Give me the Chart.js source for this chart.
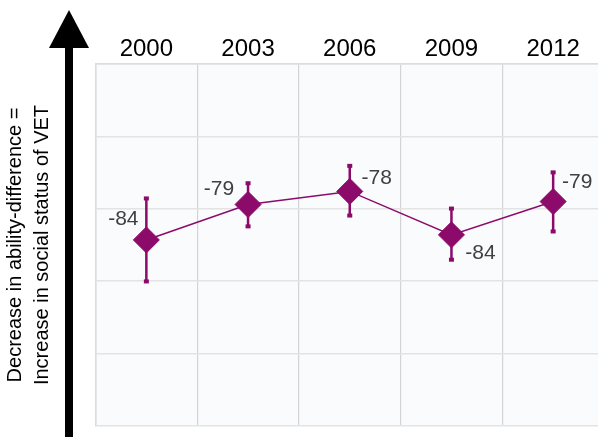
<!DOCTYPE html>
<html>
<head>
<meta charset="utf-8">
<script src="https://cdn.jsdelivr.net/npm/chart.js@4"></script>
<style>
  html, body { margin: 0; padding: 0; background: #ffffff; overflow: hidden; width: 598px; height: 437px; }
  #c { display: block; }
</style>
</head>
<body>
<canvas id="c" width="604" height="437"></canvas>
<script>
// ---- data ----
const years = ['2000', '2003', '2006', '2009', '2012'];
const scores = [-84.3, -79.4, -77.6, -83.6, -79.0];
const errUpper = [-78.5, -76.4, -74.0, -79.9, -74.9];
const errLower = [-90.1, -82.5, -81.0, -87.1, -83.2];
const yTitle = ['Decrease in ability-difference =', 'Increase in social status of VET'];

const PURPLE = '#8B0A6A';
const FONT = "'Liberation Sans', Arial, sans-serif";

// label placement relative to point (style only)
const labelPlace = [
  { dx: -23, dy: -21 },
  { dx: -29, dy: -15 },
  { dx: 27, dy: -13 },
  { dx: 29, dy: 18 },
  { dx: 24, dy: -19 }
];

const bgPlugin = {
  id: 'bg',
  beforeDraw(chart) {
    const { ctx, chartArea: a } = chart;
    ctx.save();
    ctx.fillStyle = '#fafbfd';
    ctx.fillRect(a.left, a.top, a.right - a.left, a.bottom - a.top);
    ctx.restore();
  }
};

const errorBarPlugin = {
  id: 'errbars',
  beforeDatasetsDraw(chart) {
    const { ctx } = chart;
    const xs = chart.scales.x, ys = chart.scales.y;
    ctx.save();
    ctx.strokeStyle = PURPLE;
    ctx.fillStyle = PURPLE;
    ctx.lineWidth = 2.5;
    years.forEach((yr, i) => {
      const x = xs.getPixelForValue(i);
      const yTop = ys.getPixelForValue(errUpper[i]);
      const yBot = ys.getPixelForValue(errLower[i]);
      ctx.beginPath();
      ctx.moveTo(x, yTop);
      ctx.lineTo(x, yBot);
      ctx.stroke();
      ctx.fillRect(x - 2.5, yTop - 1.5, 5, 4);
      ctx.fillRect(x - 2.5, yBot - 2.5, 5, 4);
    });
    ctx.restore();
  }
};

const labelPlugin = {
  id: 'vlabels',
  afterDatasetsDraw(chart) {
    const { ctx } = chart;
    const meta = chart.getDatasetMeta(0);
    ctx.save();
    ctx.font = '21px ' + FONT;
    ctx.fillStyle = '#404040';
    ctx.textAlign = 'center';
    ctx.textBaseline = 'middle';
    meta.data.forEach((pt, i) => {
      const p = labelPlace[i];
      ctx.fillText(String(Math.round(scores[i])), pt.x + p.dx, pt.y + p.dy);
    });
    ctx.restore();
  }
};

const arrowPlugin = {
  id: 'arrow',
  afterDraw(chart) {
    const { ctx } = chart;
    ctx.save();
    ctx.fillStyle = '#000000';
    ctx.fillRect(65, 46, 8, 437 - 46);
    ctx.beginPath();
    ctx.moveTo(69, 10);
    ctx.lineTo(89, 48);
    ctx.lineTo(49, 48);
    ctx.closePath();
    ctx.fill();
    ctx.restore();
  }
};

new Chart(document.getElementById('c'), {
  type: 'line',
  data: {
    labels: years,
    datasets: [{
      data: scores,
      borderColor: PURPLE,
      backgroundColor: PURPLE,
      borderWidth: 1.5,
      pointStyle: 'rectRot',
      pointRadius: 13,
      pointHoverRadius: 13,
      pointBackgroundColor: PURPLE,
      pointBorderColor: PURPLE,
      pointBorderWidth: 1,
      tension: 0,
      clip: false
    }]
  },
  options: {
    responsive: false,
    maintainAspectRatio: false,
    animation: false,
    events: [],
    layout: { autoPadding: false, padding: { top: 30, left: 0, right: 0, bottom: 11 } },
    plugins: {
      legend: { display: false },
      tooltip: { enabled: false }
    },
    scales: {
      x: {
        position: 'top',
        offset: true,
        grid: { color: '#d4d4d4', lineWidth: 1.2, drawTicks: false, offset: true },
        border: { display: true, color: '#dcdcdc', width: 1.5 },
        ticks: { color: '#000000', font: { family: FONT, size: 24 }, padding: 0 },
        afterFit(scale) { scale.height = 34; scale.paddingLeft = 0; scale.paddingRight = 0; }
      },
      y: {
        min: -110,
        max: -60,
        grid: { color: '#e3e3e3', lineWidth: 1.5, drawTicks: false },
        border: { display: true, color: '#dcdcdc', width: 1.5 },
        ticks: { display: false, stepSize: 10 },
        afterFit(scale) { scale.paddingTop = 0; scale.paddingBottom = 0; },
        title: {
          display: true,
          text: yTitle,
          color: '#000000',
          font: { family: FONT, size: 20, lineHeight: 1.35 },
          padding: { top: 1.5, bottom: 40 }
        }
      }
    }
  },
  plugins: [bgPlugin, errorBarPlugin, labelPlugin, arrowPlugin]
});
</script>
</body>
</html>
